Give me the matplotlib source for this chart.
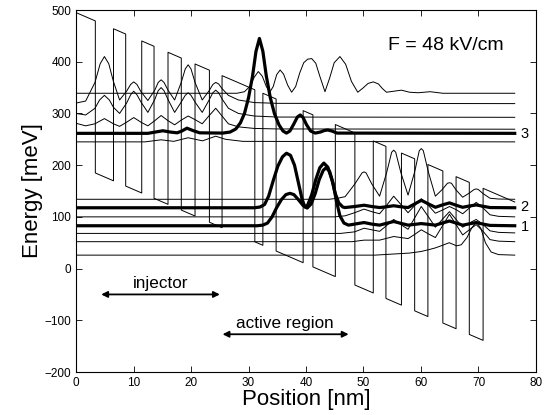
import matplotlib
matplotlib.use("Agg")
import matplotlib.pyplot as plt

plt.rcParams["font.family"] = ["Liberation Sans", "DejaVu Sans"]

# layer interfaces (nm), alternating barrier / well, starting with a barrier
interfaces = [0.0, 3.36, 6.52, 8.64, 11.43, 13.57, 16.0, 18.31, 20.7, 23.2, 25.4,
              31.1, 32.5, 34.8, 39.5, 41.2, 45.1, 48.5, 51.7, 53.9, 56.6, 58.9,
              61.2, 63.8, 66.1, 68.4, 70.8, 76.3]
barrier_top0 = 495.0     # meV at x = 0
band_offset = 294.0      # meV
field = 4.8              # meV/nm  (48 kV/cm)

# |psi|^2 curves: (x nm, E meV)
state3_x = [0, 12.5, 13.8, 15.1, 16.4, 17.6, 18.4, 19.3, 20.3, 21.5, 25.5, 26.8, 27.8,
            28.6, 29.3, 30.0, 30.7, 31.3, 31.9, 32.5, 33.1, 33.8, 34.5, 35.3, 36.0,
            36.6, 37.2, 37.9, 38.5, 39.0, 39.5, 40.1, 40.8, 41.6, 42.5, 43.2, 43.8,
            44.5, 45.4, 76.3]
state3_e = [261.5, 261.5, 264, 266.5, 264, 262.5, 266, 271.5, 267, 262.5, 262, 264, 270,
            282, 300, 330, 372, 420, 445, 420, 372, 330, 300, 278, 266,
            262, 266, 280, 293, 297, 292, 278, 266, 262, 264, 267, 268,
            266, 262, 261.5]

state2_x = [0, 31.0, 32.0, 32.8, 33.5, 34.3, 35.1, 35.9, 36.6, 37.3, 38.0, 38.7, 39.3,
            39.8, 40.3, 41.0, 41.7, 42.4, 43.1, 43.8, 44.5, 45.1, 45.7, 46.4, 46.8,
            48.45, 50.1, 51.45, 52.8, 54.0, 55.25, 56.5, 57.75, 58.9, 60.05, 61.3,
            62.5, 63.7, 64.95, 66.1, 67.25, 68.4, 69.6, 70.8, 72.0, 76.3]
state2_e = [117.6, 117.6, 119, 124, 140, 170, 198, 216, 223, 219, 200, 165, 135,
            119, 123, 143, 172, 195, 204, 196, 172, 145, 127, 119, 118,
            120, 122.5, 120, 118, 119.5, 121.5, 119.5, 118, 125, 132, 125,
            118.5, 123, 127, 122.5, 118.5, 121, 123, 120.5, 118, 117.6]

state1_x = [0, 31.5, 32.5, 33.3, 34.1, 34.9, 35.7, 36.5, 37.2, 37.9, 38.7, 39.5, 40.2,
            40.9, 41.6, 42.3, 43.0, 43.5, 44.1, 44.7, 45.3, 45.9, 46.6, 47.4, 48.45,
            50.1, 51.45, 52.8, 54.0, 55.25, 56.5, 57.75, 58.9, 60.05, 61.3, 62.5,
            63.7, 64.95, 66.1, 67.25, 68.4, 69.6, 70.8, 72.0, 76.3]
state1_e = [82.8, 82.8, 84, 88, 100, 118, 133, 143, 145.5, 143, 133, 122, 117,
            125, 145, 172, 190, 195, 188, 165, 130, 102, 88, 84, 86,
            89, 86, 84, 87.5, 91, 87.5, 84, 85.5, 87, 85.5, 84,
            88, 92, 88, 84, 86.5, 89, 86, 83.5, 82.8]

# upper (left injector / continuum) states
u1_x = [0, 28.0, 29.3, 30.2, 31.0, 31.7, 32.4, 33.1, 33.7, 34.3, 34.9, 35.5, 36.1,
        36.8, 37.5, 38.2, 38.9, 39.6, 40.3, 41.0, 41.7, 42.4, 43.3, 44.1, 44.9, 45.9,
        46.9, 47.9, 49.0, 49.9, 50.8, 51.7, 52.6, 53.3, 54.0, 55.3, 56.6, 58.0,
        59.5, 61.6, 63.8, 76.3]
u1_e = [339, 339, 342, 352, 370, 381, 372, 352, 341, 352, 375, 384, 376,
        355, 341, 352, 378, 398, 405, 406, 397, 372, 342, 368, 398, 410,
        395, 362, 341, 349, 358, 361, 357, 348, 341, 343, 345, 341,
        340, 342, 339, 339]
u2_x = [0, 1.68, 3.3, 4.2, 4.94, 5.7, 6.5, 7.58, 8.8, 9.5, 10.04, 10.6, 11.3, 12.5,
        13.7, 14.3, 14.8, 15.3, 16.0, 17.15, 18.3, 19.0, 19.5, 20.0, 20.7, 21.95,
        23.1, 23.8, 24.3, 24.8, 25.4, 26.5, 28.25, 31.0, 35.0, 76.3]
u2_e = [320, 324, 360, 396, 410, 396, 362, 326, 343, 356, 361, 356, 342, 325,
        345, 360, 365, 360, 345, 326, 360, 386, 394, 386, 360, 326,
        343, 356, 360, 357, 348, 335, 326, 321, 319.5, 319]
u3_x = [0, 1.68, 3.3, 4.1, 4.94, 5.8, 6.5, 7.58, 8.8, 9.5, 10.04, 10.6, 11.3, 12.5,
        13.7, 14.3, 14.8, 15.3, 16.0, 17.15, 18.3, 19.0, 19.5, 20.0, 20.7, 21.95,
        23.1, 23.8, 24.3, 24.8, 25.4, 26.5, 28.25, 31.0, 35.0, 76.3]
u3_e = [300, 297, 310, 326, 335, 326, 312, 300, 320, 336, 343, 336, 322, 302,
        327, 344, 350, 344, 327, 302, 322, 335, 340, 335, 322, 302,
        325, 340, 345, 340, 328, 310, 300, 295, 293, 292.5]
u4_x = [0, 1.68, 3.3, 4.94, 6.5, 7.58, 8.8, 10.04, 11.3, 12.5, 13.7, 14.8, 16.0,
        17.15, 18.3, 19.5, 20.7, 21.95, 23.1, 24.3, 25.4, 26.5, 28.25, 31.0, 35.0, 76.3]
u4_e = [281, 276, 280, 290, 280, 275, 283, 292, 283, 276, 286, 296, 286,
        278, 287, 295, 288, 280, 295, 310, 295, 280, 274, 271, 270, 269.5]
u5_x = [0, 12.0, 14.8, 17.0, 19.5, 22.0, 24.3, 26.0, 29.0, 76.3]
u5_e = [245, 245, 249, 246, 253, 247, 256, 250, 246, 245]

# lower (right injector) states
l1_x = [0, 44.0, 45.5, 46.8, 48.45, 49.75, 50.1, 50.45, 51.45, 52.8, 54.0, 54.9, 55.25,
        55.6, 56.5, 57.75, 58.9, 59.7, 60.05, 60.4, 61.3, 62.5, 63.7, 64.6, 64.95,
        65.3, 66.1, 67.25, 68.4, 69.25, 69.6, 69.95, 70.8, 72.0, 73.5, 76.3]
l1_e = [134, 134, 136, 139, 163, 185, 187, 185, 163.5, 140, 184.5, 225, 229,
        225, 185.5, 142, 187, 228, 232, 228, 186, 140, 153, 165, 166,
        165, 152, 138, 146, 153, 154, 153, 145, 136, 134.5, 134]
l2_x = [0, 45.0, 46.8, 48.45, 50.1, 51.45, 52.8, 54.0, 55.25, 56.5, 57.75, 58.9, 60.05,
        61.3, 62.5, 63.7, 64.95, 66.1, 67.25, 68.4, 69.6, 70.8, 72.0, 73.5, 76.3]
l2_e = [100, 100, 102, 108, 115, 110, 106, 122, 140, 124, 108, 122, 135,
        122, 107, 113, 120, 114, 106, 117, 128, 117, 104, 101, 100]
l3_x = [0, 46.0, 48.45, 50.1, 51.45, 52.8, 54.0, 55.25, 56.5, 57.75, 58.9, 60.05, 61.3,
        62.5, 63.7, 64.95, 66.1, 67.25, 68.4, 69.6, 70.8, 72.0, 73.5, 76.3]
l3_e = [68, 68, 71, 78, 75, 72, 83, 95, 85, 76, 98, 120, 100,
        80, 95, 110, 95, 80, 88, 95, 85, 73, 70, 69]
l4_x = [0, 48.0, 50.1, 52.8, 55.25, 57.75, 58.9, 60.05, 61.3, 62.5, 63.7, 64.95, 66.1,
        67.25, 68.4, 69.6, 70.8, 72.0, 73.5, 76.3]
l4_e = [52, 52, 55, 55, 62, 58, 66, 75, 67, 60, 82, 105, 85,
        65, 75, 85, 72, 56, 53, 52]
l5_x = [0, 52.0, 55.0, 58.0, 60.0, 61.5, 62.5, 63.5, 64.9, 66.2, 67.0, 68.0, 68.8,
        69.6, 70.4, 71.2, 72.2, 73.5, 76.3]
l5_e = [26, 26, 28, 30, 33, 37, 40, 44, 50, 44, 46, 60, 78,
        90, 78, 50, 32, 27, 26]

thin_states = [(u1_x, u1_e), (u2_x, u2_e), (u3_x, u3_e), (u4_x, u4_e), (u5_x, u5_e),
               (l1_x, l1_e), (l2_x, l2_e), (l3_x, l3_e), (l4_x, l4_e), (l5_x, l5_e)]
thick_states = [(state3_x, state3_e), (state2_x, state2_e), (state1_x, state1_e)]

# band profile built from the layer interfaces and the field
band_x = [interfaces[0]]
band_e = [barrier_top0]
for i, xi in enumerate(interfaces[1:], start=1):
    top = barrier_top0 - field * xi
    bot = top - band_offset
    band_x += [xi, xi]
    band_e += [top, bot] if i % 2 == 1 else [bot, top]
band_x, band_e = band_x[:-1], band_e[:-1]

fig = plt.figure(figsize=(5.52, 4.15), dpi=100)
ax = fig.add_axes([0.1377, 0.1036, 0.8333, 0.8723])

ax.plot(band_x, band_e, color="black", lw=0.7)
for xs, es in thin_states:
    ax.plot(xs, es, color="black", lw=0.7, solid_joinstyle="round")
for xs, es in thick_states:
    ax.plot(xs, es, color="black", lw=2.3, solid_joinstyle="round")

ax.text(77.3, 261, "3", fontsize=10.5, va="center", ha="left")
ax.text(77.3, 120, "2", fontsize=10.5, va="center", ha="left")
ax.text(77.3, 81, "1", fontsize=10.5, va="center", ha="left")
ax.text(54.3, 432, "F = 48 kV/cm", fontsize=14, ha="left", va="center")

ax.annotate("", xy=(3.9, -50), xytext=(25.5, -50),
            arrowprops=dict(arrowstyle="<|-|>", color="black", lw=1.3, mutation_scale=9))
ax.text(14.7, -37, "injector", fontsize=12.3, ha="center", va="baseline")
ax.annotate("", xy=(25.0, -127), xytext=(47.9, -127),
            arrowprops=dict(arrowstyle="<|-|>", color="black", lw=1.3, mutation_scale=9))
ax.text(36.4, -115, "active region", fontsize=12.3, ha="center", va="baseline")

ax.set_xlim(0, 80)
ax.set_ylim(-200, 500)
ax.set_xticks(range(0, 81, 10))
ax.set_yticks(range(-200, 501, 100))
ax.tick_params(direction="in", top=True, right=True, labelsize=8.5, length=4, width=0.6)
for s in ax.spines.values():
    s.set_linewidth(0.8)
ax.set_xlabel("Position [nm]", fontsize=16, labelpad=0)
ax.set_ylabel("Energy [meV]", fontsize=16, labelpad=1)

fig.savefig("out.png", dpi=100)
